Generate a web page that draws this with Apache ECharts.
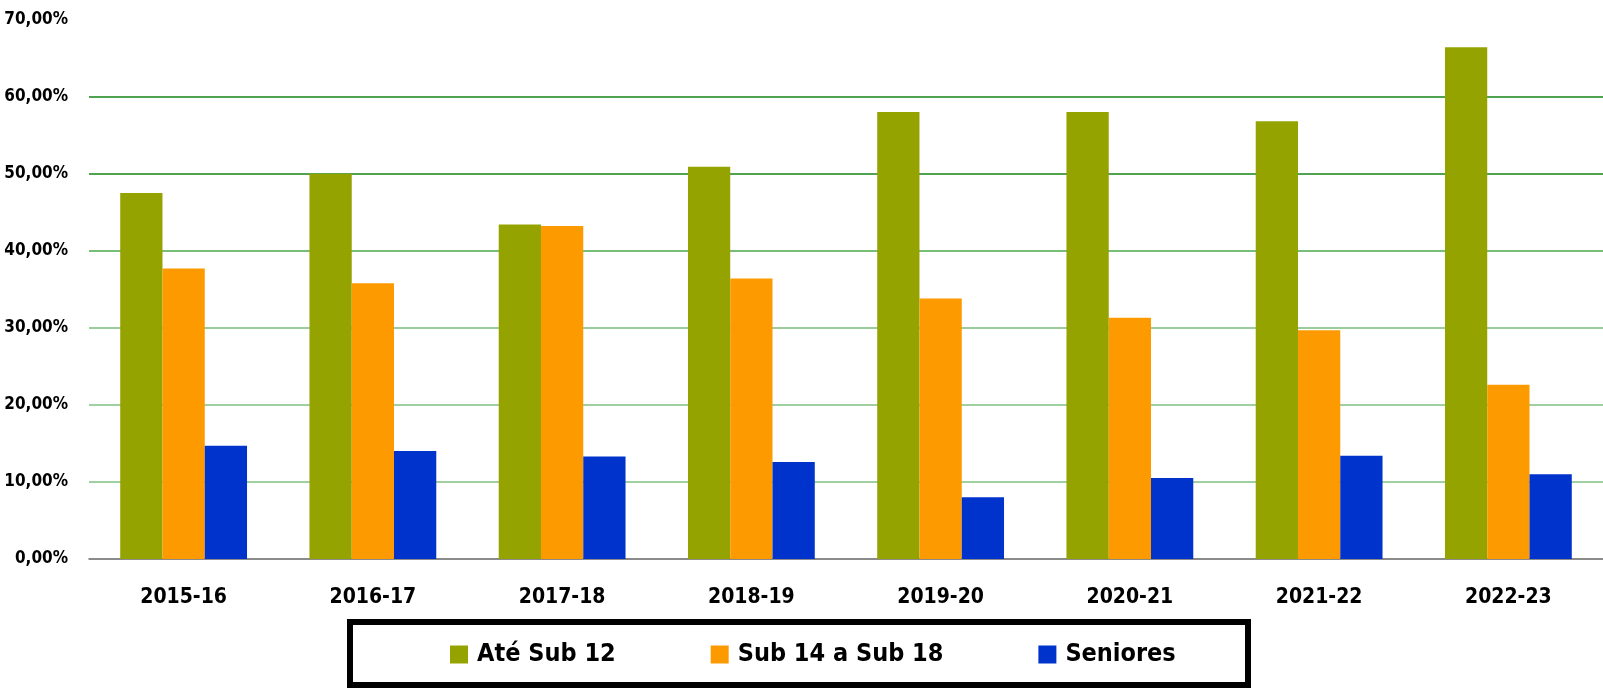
<!DOCTYPE html>
<html>
<head>
<meta charset="utf-8">
<script src="https://cdn.jsdelivr.net/npm/echarts@6/dist/echarts.min.js"></script>
<style>
html,body{margin:0;padding:0;background:#fff;}
#chart{width:1603px;height:690px;}
</style>
</head>
<body>
<div id="chart"></div>
<script>
const categories = ['2015-16','2016-17','2017-18','2018-19','2019-20','2020-21','2021-22','2022-23'];
const ateSub12 = [47.5, 50.0, 43.4, 50.9, 58.0, 58.0, 56.8, 66.4];
const sub14a18 = [37.7, 35.8, 43.2, 36.4, 33.8, 31.3, 29.7, 22.6];
const seniores = [14.7, 14.0, 13.3, 12.6, 8.0, 10.5, 13.4, 11.0];
const seriesNames = ['Até Sub 12', 'Sub 14 a Sub 18', 'Seniores'];
const yTicks = [0, 10, 20, 30, 40, 50, 60, 70];

const FONT = "'DejaVu Sans Condensed', 'Liberation Sans Narrow', 'Liberation Sans', sans-serif";
const chart = echarts.init(document.getElementById('chart'), null, {renderer: 'canvas'});
const colors = ['#95a300', '#fd9a00', '#0033cc'];
chart.setOption({
  animation: false,
  color: colors,
  grid: {left: 89, right: 0, top: 19.6, bottom: 131, containLabel: false, outerBoundsMode: 'none'},
  xAxis: {
    type: 'category',
    data: categories,
    axisLine: {lineStyle: {color: '#666', width: 1.5}},
    axisTick: {length: 8, lineStyle: {color: '#555', width: 1.5}},
    axisLabel: {color: '#000', fontFamily: FONT, fontWeight: 'bold', fontSize: 21, margin: 28}
  },
  yAxis: {
    type: 'value',
    min: yTicks[0],
    max: yTicks[yTicks.length - 1],
    interval: 10,
    axisLine: {show: false},
    axisTick: {show: false},
    axisLabel: {
      color: '#000', fontFamily: FONT, fontWeight: 'bold', fontSize: 17, margin: 21,
      formatter: v => v.toFixed(2).replace('.', ',') + '%'
    },
    splitLine: {
      show: true,
      lineStyle: {
        width: 1.5,
        color: ['rgba(0,0,0,0)', '#80c080', '#80c080', '#78bc78', '#4aa84a', '#168516', '#168516', 'rgba(0,0,0,0)']
      }
    }
  },
  legend: {
    left: 445,
    top: 637,
    itemWidth: 18,
    itemHeight: 18,
    itemGap: 95,
    icon: 'rect',
    data: [
      {name: seriesNames[0], textStyle: {width: 134}},
      {name: seriesNames[1], textStyle: {width: 201}},
      {name: seriesNames[2], textStyle: {width: 104}}
    ],
    textStyle: {color: '#000', fontFamily: FONT, fontWeight: 'bold', fontSize: 25, padding: [0, 0, 0, 4]}
  },
  graphic: [{
    type: 'rect',
    shape: {x: 350, y: 622, width: 898, height: 63},
    style: {fill: 'none', stroke: '#000', lineWidth: 6},
    silent: true
  }],
  series: [
    {name: seriesNames[0], type: 'bar', data: ateSub12, barGap: '0%', barCategoryGap: '33%'},
    {name: seriesNames[1], type: 'bar', data: sub14a18, barGap: '0%', barCategoryGap: '33%'},
    {name: seriesNames[2], type: 'bar', data: seniores, barGap: '0%', barCategoryGap: '33%'}
  ]
});
</script>
</body>
</html>
